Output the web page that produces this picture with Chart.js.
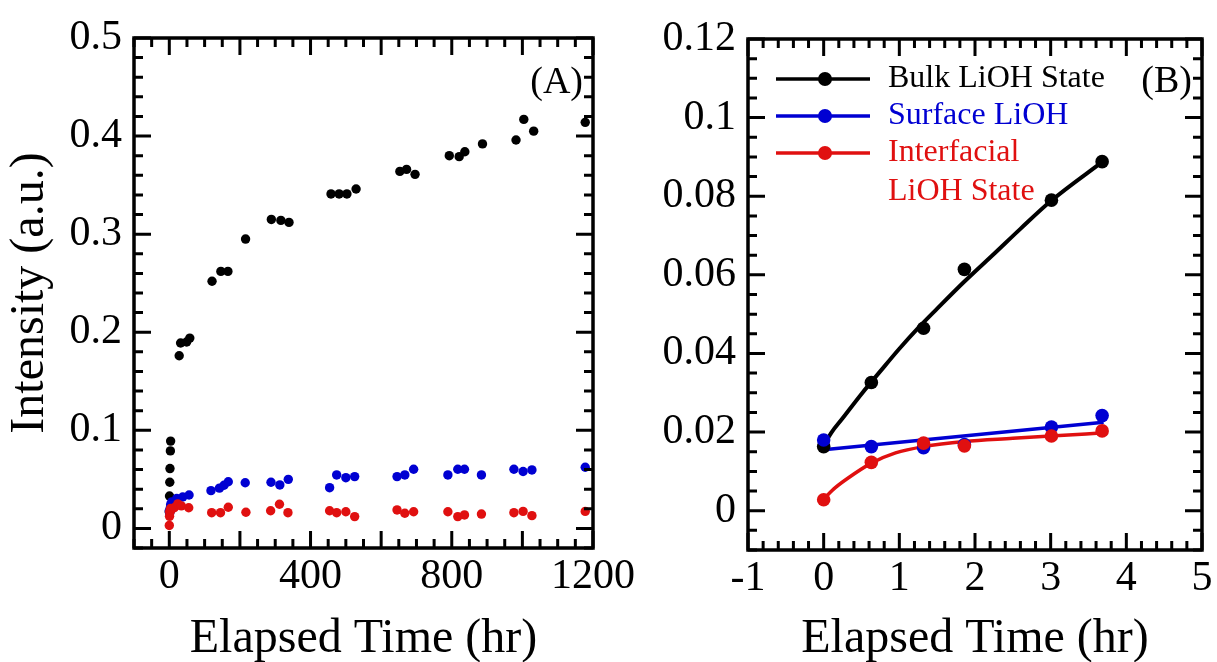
<!DOCTYPE html>
<html>
<head>
<meta charset="utf-8">
<script src="https://cdn.jsdelivr.net/npm/chart.js"></script>
<style>
  html, body { margin: 0; padding: 0; background: #fff; overflow: hidden; }
  #chartA { position: absolute; left: 0; top: 0; }
  #chartB { position: absolute; left: 640px; top: 0; }
</style>
</head>
<body>
<canvas id="chartA" width="650" height="662"></canvas>
<canvas id="chartB" width="577" height="662"></canvas>
<script>
// ---- panel A: long-term intensities (x in hr) ----
const aBulkX = [0, 0.63, 1.33, 1.87, 3.03, 3.7, 28, 32, 49, 58, 121, 146, 166, 216, 289, 316, 339, 458, 481, 503, 529, 653, 672, 696, 793, 821, 837, 887, 982, 1004, 1032, 1178];
const aBulkY = [0.017, 0.033, 0.047, 0.061, 0.079, 0.089, 0.176, 0.189, 0.190, 0.194, 0.252, 0.262, 0.262, 0.295, 0.315, 0.314, 0.312, 0.341, 0.341, 0.341, 0.346, 0.364, 0.366, 0.361, 0.380, 0.379, 0.384, 0.392, 0.396, 0.417, 0.405, 0.414];

const aSurfX = [0, 0.63, 1.33, 1.87, 3.03, 3.7, 7, 21, 38, 56, 118, 142, 155, 167, 215, 288, 313, 337, 454, 474, 500, 525, 645, 667, 692, 789, 817, 836, 884, 976, 1002, 1027, 1178];
const aSurfY = [0.018, 0.0163, 0.016, 0.0175, 0.0213, 0.0242, 0.027, 0.0305, 0.032, 0.034, 0.0385, 0.041, 0.044, 0.0475, 0.0465, 0.047, 0.0443, 0.050, 0.0415, 0.0545, 0.0517, 0.0528, 0.0528, 0.0545, 0.0603, 0.0545, 0.0603, 0.0603, 0.0545, 0.0603, 0.058, 0.0596, 0.0623];

const aIntX = [0, 0.63, 1.33, 1.87, 3.03, 3.7, 14, 24, 34, 55, 120, 145, 167, 217, 287, 312, 336, 454, 474, 500, 525, 645, 667, 692, 789, 817, 836, 884, 976, 1002, 1027, 1178];
const aIntY = [0.003, 0.0123, 0.0172, 0.0165, 0.019, 0.0203, 0.021, 0.025, 0.023, 0.021, 0.016, 0.016, 0.0215, 0.0165, 0.018, 0.0246, 0.016, 0.018, 0.016, 0.017, 0.012, 0.0188, 0.0154, 0.017, 0.017, 0.012, 0.0137, 0.0146, 0.016, 0.0173, 0.013, 0.0173];

const aXTicks = [0, 400, 800, 1200];
const aYTicks = [0, 0.1, 0.2, 0.3, 0.4, 0.5];

// ---- panel B: first hours, points + fitted curves ----
const bTime = [0, 0.63, 1.32, 1.86, 3.01, 3.68];
const bBulk = [0.0163, 0.0326, 0.0464, 0.0614, 0.079, 0.0888];
const bSurf = [0.018, 0.0163, 0.016, 0.0168, 0.0213, 0.0242];
const bInt  = [0.0028, 0.0123, 0.0172, 0.0165, 0.019, 0.0203];

const bBulkFitX = [0, 0.1, 0.25, 0.5, 0.75, 1, 1.25, 1.5, 1.86, 2.26, 2.6, 3.01, 3.7];
const bBulkFitY = [0.0165, 0.0198, 0.0235, 0.0297, 0.0355, 0.0412, 0.0465, 0.0514, 0.0583, 0.0655, 0.0717, 0.0789, 0.089];
const bSurfFitX = [0, 3.7];
const bSurfFitY = [0.0155, 0.0225];
const bIntFitX = [0, 0.15, 0.3, 0.63, 0.95, 1.32, 1.86, 2.5, 3, 3.7];
const bIntFitY = [0.003, 0.0058, 0.008, 0.0121, 0.0147, 0.0163, 0.0176, 0.0184, 0.019, 0.0198];

const bXTicks = [-1, 0, 1, 2, 3, 4, 5];
const bYTicks = [0, 0.02, 0.04, 0.06, 0.08, 0.1, 0.12];

const seriesNames = [['Bulk LiOH State'], ['Surface LiOH'], ['Interfacial', 'LiOH State']];
const colors = ['#000000', '#0000d2', '#e01010'];

Chart.defaults.font.family = "'Liberation Serif', 'Times New Roman', serif";
Chart.defaults.color = '#000';

const pts = (xs, ys) => xs.map((x, i) => ({x: x, y: ys[i]}));
const fmt = v => String(+Number(v).toFixed(3));

// inward ticks on all four sides plus the heavy frame
const frameTicks = {
  id: 'frameTicks',
  afterDatasetsDraw(chart, args, o) {
    const {ctx, chartArea: a} = chart;
    const xs = chart.scales.x, ys = chart.scales.y;
    ctx.save();
    ctx.strokeStyle = '#000';
    ctx.lineWidth = 3;
    ctx.beginPath();
    const isMajor = (v, m) => Math.abs(v / m - Math.round(v / m)) < 1e-6;
    for (let k = Math.ceil(xs.min / o.xMinor - 1e-6); k * o.xMinor <= xs.max + 1e-9; k++) {
      const v = k * o.xMinor;
      const px = xs.getPixelForValue(v);
      const len = isMajor(v, o.xMajor) ? 17 : 9;
      ctx.moveTo(px, a.bottom); ctx.lineTo(px, a.bottom - len);
      ctx.moveTo(px, a.top); ctx.lineTo(px, a.top + len);
    }
    for (let k = Math.ceil(ys.min / o.yMinor - 1e-6); k * o.yMinor <= ys.max + 1e-9; k++) {
      const v = k * o.yMinor;
      const py = ys.getPixelForValue(v);
      const len = isMajor(v, o.yMajor) ? 17 : 9;
      ctx.moveTo(a.left, py); ctx.lineTo(a.left + len, py);
      ctx.moveTo(a.right, py); ctx.lineTo(a.right - len, py);
    }
    ctx.stroke();
    ctx.lineWidth = 3.5;
    ctx.strokeRect(a.left, a.top, a.right - a.left, a.bottom - a.top);
    // panel letter
    ctx.fillStyle = '#000';
    ctx.font = "38px 'Liberation Serif', serif";
    ctx.textAlign = 'right';
    ctx.textBaseline = 'middle';
    ctx.fillText(o.letter, a.right - 10, a.top + o.letterDy);
    ctx.restore();
  }
};

// legend of panel B: line with dot, coloured text, wrapped last entry
const lineLegend = {
  id: 'lineLegend',
  afterDraw(chart, args, o) {
    if (!o.show) return;
    const {ctx, chartArea: a} = chart;
    ctx.save();
    ctx.font = "32px 'Liberation Serif', serif";
    ctx.textAlign = 'left';
    ctx.textBaseline = 'middle';
    let y = a.top + 40;
    seriesNames.forEach((lines, i) => {
      ctx.strokeStyle = colors[i];
      ctx.fillStyle = colors[i];
      ctx.lineWidth = 3.5;
      ctx.beginPath();
      ctx.moveTo(a.left + 28, y); ctx.lineTo(a.left + 122, y);
      ctx.stroke();
      ctx.beginPath();
      ctx.arc(a.left + 77, y, 7, 0, Math.PI * 2);
      ctx.fill();
      lines.forEach((t, j) => ctx.fillText(t, a.left + 140, y + j * 39));
      y += 37;
    });
    ctx.restore();
  }
};

function axis(min, max, tickList, fitSize, title, horizontal, extra) {
  return Object.assign({
    type: 'linear', min: min, max: max,
    afterBuildTicks: s => { s.ticks = tickList.map(v => ({value: v})); },
    afterFit: s => { if (horizontal) s.height = fitSize; else s.width = fitSize; },
    grid: {display: false, drawTicks: false},
    border: {display: false},
    ticks: {font: {size: 42}, color: '#000', autoSkip: false, maxRotation: 0,
            padding: horizontal ? 4 : 12, callback: v => fmt(v)},
    title: {display: true, text: title, color: '#000', font: {size: 48},
            padding: horizontal ? {top: 0, bottom: -6} : {top: 2, bottom: 0}}
  }, extra || {});
}

const common = {
  responsive: false,
  animation: false,
  plugins: {legend: {display: false}, tooltip: {enabled: false}}
};

new Chart(document.getElementById('chartA'), {
  type: 'scatter',
  data: {
    datasets: [
      {data: pts(aIntX, aIntY), backgroundColor: colors[2], pointRadius: 4.7, borderWidth: 0, order: 0},
      {data: pts(aSurfX, aSurfY), backgroundColor: colors[1], pointRadius: 4.7, borderWidth: 0, order: 1},
      {data: pts(aBulkX, aBulkY), backgroundColor: colors[0], pointRadius: 4.7, borderWidth: 0, order: 2}
    ]
  },
  options: Object.assign({}, common, {
    layout: {padding: {top: 38, right: 57, bottom: 0, left: 0}},
    scales: {
      x: axis(-100, 1200, aXTicks, 114, 'Elapsed Time (hr)', true),
      y: axis(-0.02, 0.5, aYTicks, 134, 'Intensity (a.u.)', false)
    },
    plugins: Object.assign({}, common.plugins, {
      frameTicks: {xMinor: 50, xMajor: 200, yMinor: 0.02, yMajor: 0.1, letter: '(A)', letterDy: 45},
      lineLegend: {show: false}
    })
  }),
  plugins: [frameTicks, lineLegend]
});

const fitLine = (xs, ys, c, w, ord) => ({
  data: pts(xs, ys), showLine: true, borderColor: c, borderWidth: w,
  pointRadius: 0, cubicInterpolationMode: 'monotone', order: ord
});
const dots = (ys, c, ord) => ({
  data: pts(bTime, ys), backgroundColor: c, pointRadius: 6.8, borderWidth: 0, order: ord
});

new Chart(document.getElementById('chartB'), {
  type: 'scatter',
  data: {
    datasets: [
      fitLine(bBulkFitX, bBulkFitY, colors[0], 4, 5),
      fitLine(bSurfFitX, bSurfFitY, colors[1], 3.5, 4),
      fitLine(bIntFitX, bIntFitY, colors[2], 3.5, 3),
      dots(bBulk, colors[0], 2),
      dots(bSurf, colors[1], 1),
      dots(bInt, colors[2], 0)
    ]
  },
  options: Object.assign({}, common, {
    layout: {padding: {top: 39, right: 15, bottom: 0, left: 0}},
    scales: {
      x: axis(-1, 5, bXTicks, 112, 'Elapsed Time (hr)', true),
      y: axis(-0.01, 0.12, bYTicks, 108, '', false, {title: {display: false}})
    },
    plugins: Object.assign({}, common.plugins, {
      frameTicks: {xMinor: 0.2, xMajor: 1, yMinor: 0.005, yMajor: 0.02, letter: '(B)', letterDy: 43},
      lineLegend: {show: true}
    })
  }),
  plugins: [frameTicks, lineLegend]
});
</script>
</body>
</html>
